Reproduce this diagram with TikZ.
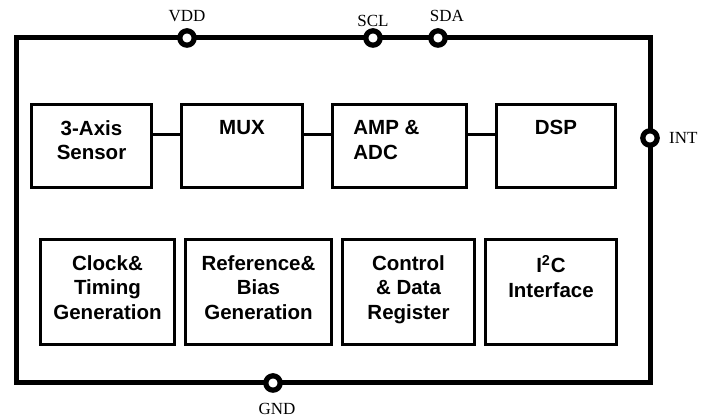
\documentclass[tikz,border=0pt]{standalone}
\usepackage{fontspec}
\setmainfont{Liberation Serif}
\newfontfamily\blkfont{Liberation Sans}
\usetikzlibrary{positioning,chains}

\begin{document}
\begin{tikzpicture}[
	x=0.5pt, y=-0.5pt,
	node distance = 13.5pt,
	blk/.style = {rectangle, draw=black, line width=1.5pt, inner sep=0pt,
		minimum height=41.5pt, on chain},
	lowblk/.style = {blk, minimum height=52.5pt},
	txt/.style = {inner sep=0pt, align=center,
		font=\fontsize{10.25pt}{12.3pt}\blkfont\bfseries},
	pin/.style = {circle, draw=black, fill=white, line width=2.6pt,
		inner sep=0pt, minimum size=7.2pt},
	pinlabel/.style = {inner sep=0pt, font=\fontsize{8.5pt}{10pt}\selectfont},
	]
	\useasboundingbox (0,0) rectangle (709,417);
	
	% chip outline
	\draw[line width=2.5pt] (16.5,38) rectangle (650,383);
	
	% signal path
	\begin{scope}[start chain = S going right]
	\node[blk, minimum width=60pt, anchor=north west] at (30,103) {};
	\node[blk, minimum width=60.5pt] {};
	\node[blk, minimum width=67pt] {};
	\node[blk, minimum width=59.5pt] {};
	\end{scope}
	
	\node[txt, below=8.5pt of S-1.north] (t-1) {3-Axis\\Sensor};
	\node[txt, below=8.5pt of S-2.north] (t-2) {MUX};
	\node[txt, align=left, anchor=north west] (t-3)
		at ([xshift=11pt, yshift=-8.5pt]S-3.north west) {AMP \&\\ADC};
	\node[txt, below=8.5pt of S-4.north] (t-4) {DSP};
	
	\foreach \i/\j in {1/2,2/3,3/4}
	\draw[line width=1.5pt] ([yshift=5.5pt]S-\i.east) -- ([yshift=5.5pt]S-\j.west);
	
	% support blocks
	\begin{scope}[start chain = C going right, node distance = 4pt]
	\node[lowblk, minimum width=67pt, anchor=north west] at (39,238) {};
	\node[lowblk, minimum width=73pt] {};
	\node[lowblk, minimum width=66pt] {};
	\node[lowblk, minimum width=65.5pt] {};
	\end{scope}
	
	\node[txt, below=8.5pt of C-1.north] (u-1) {Clock\&\\Timing\\Generation};
	\node[txt, below=8.5pt of C-2.north] (u-2) {Reference\&\\Bias\\Generation};
	\node[txt, below=8.5pt of C-3.north] (u-3) {Control\\\& Data\\Register};
	\node[txt, below=8.5pt of C-4.north] (u-4) {I\textsuperscript{2}C\\Interface};
	
	% pins
	\node[pin] (vdd) at (187,38) {};
	\node[pin] (scl) at (373,38) {};
	\node[pin] (sda) at (438,38) {};
	\node[pin] (int) at (650,138) {};
	\node[pin] (gnd) at (273,383) {};
	
	\node[pinlabel, above=3pt of vdd] (vdd-l) {VDD};
	\node[pinlabel, above=0.5pt of scl] (scl-l) {SCL};
	\node[pinlabel, above=3pt of sda, xshift=4.5pt] (sda-l) {SDA};
	\node[pinlabel, right=4.5pt of int] (int-l) {INT};
	\node[pinlabel, below=5pt of gnd, xshift=2pt] (gnd-l) {GND};
\end{tikzpicture}
\end{document}
